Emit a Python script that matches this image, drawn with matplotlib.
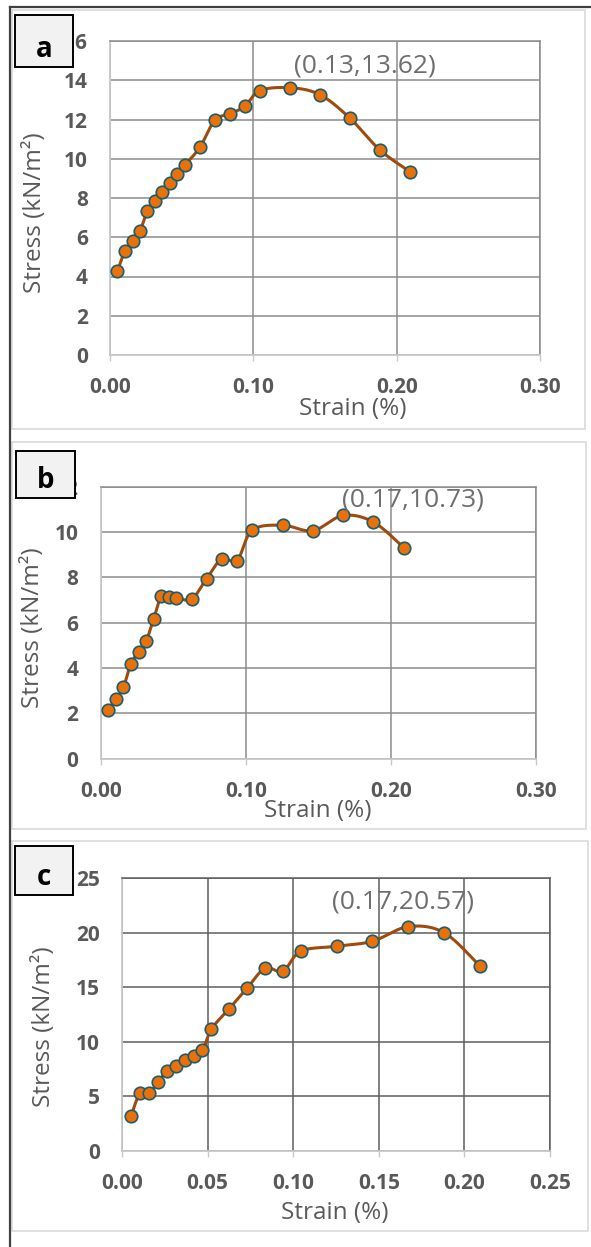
import matplotlib
matplotlib.use("Agg")
import matplotlib.pyplot as plt
from matplotlib.patches import Rectangle
from matplotlib.lines import Line2D
import numpy as np

plt.rcParams['font.family'] = ['Open Sans', 'DejaVu Sans']

strain = [0.0052, 0.0105, 0.0157, 0.0209, 0.0261, 0.0313, 0.0366, 0.0418, 0.0470, 0.0522,
          0.0627, 0.0731, 0.0836, 0.0940, 0.1045, 0.1254, 0.1463, 0.1672, 0.1881, 0.2090]

stress_a = [4.28, 5.31, 5.81, 6.32, 7.33, 7.83, 8.29, 8.76, 9.23, 9.68,
            10.58, 11.96, 12.29, 12.67, 13.47, 13.62, 13.27, 12.08, 10.46, 9.35]
stress_b = [2.13, 2.64, 3.16, 4.20, 4.70, 5.19, 6.18, 7.17, 7.14, 7.11,
            7.04, 7.95, 8.83, 8.73, 10.08, 10.30, 10.06, 10.73, 10.44, 9.31]
stress_c = [3.17, 5.31, 5.28, 6.29, 7.33, 7.78, 8.33, 8.73, 9.22, 11.17,
            13.06, 14.93, 16.76, 16.48, 18.32, 18.77, 19.23, 20.57, 20.02, 16.97]

panel_labels = ['a', 'b', 'c']
xticks_ab = [0.0, 0.1, 0.2, 0.3]
xticks_c = [0.0, 0.05, 0.10, 0.15, 0.20, 0.25]

W, H = 591, 1247
LINE = '#A04A0C'
FACE = '#E8710A'
EDGE = '#1D5C6E'
TXT = '#595959'


def fx(px):
    return px / W


def fy(py):
    return 1 - py / H


def smooth(x, y, sx, sy, n=24):
    # Excel-like smoothed line: Catmull-Rom as cubic Bezier, done in pixel space
    pts = np.column_stack([np.asarray(x) * sx, np.asarray(y) * sy])
    out = []
    t = np.linspace(0, 1, n)[:, None]
    for i in range(len(pts) - 1):
        p0 = pts[max(i - 1, 0)]
        p1 = pts[i]
        p2 = pts[i + 1]
        p3 = pts[min(i + 2, len(pts) - 1)]
        c1 = p1 + (p2 - p0) / 6
        c2 = p2 - (p3 - p1) / 6
        seg = (1 - t)**3 * p1 + 3 * (1 - t)**2 * t * c1 + 3 * (1 - t) * t**2 * c2 + t**3 * p2
        out.append(seg if i == 0 else seg[1:])
    out = np.vstack(out)
    return out[:, 0] / sx, out[:, 1] / sy


fig = plt.figure(figsize=(W / 100, H / 100), dpi=100)

# plot box in px (left, top, right, bottom), axis limits, label spots, frames
panels = [
    dict(y=stress_a, box=(110, 41, 540, 355), xmax=0.3, ymax=16, ystep=2, xt=xticks_ab,
         grid='#8C8C8C', ylab=(-0.147, 0.452), xlab=(0.565, -0.134), off=(54, 15.5),
         frame=(12, 10, 585, 429), lab=(15, 15, 73, 67)),
    dict(y=stress_b, box=(100.7, 486.7, 535.7, 758.7), xmax=0.3, ymax=12, ystep=2, xt=xticks_ab,
         grid='#8C8C8C', ylab=(-0.128, 0.48), xlab=(0.50, -0.148), off=(50, 11),
         frame=(12, 442, 586, 829), lab=(16, 451, 75, 498)),
    dict(y=stress_c, box=(122, 878.3, 550, 1151), xmax=0.25, ymax=25, ystep=5, xt=xticks_c,
         grid='#5E5E5E', ylab=(-0.154, 0.455), xlab=(0.498, -0.182), off=(-4, 18),
         frame=(12, 841, 588, 1231), lab=(15, 846, 73, 895)),
]

for p, letter in zip(panels, panel_labels):
    l, t_, r, b = p['box']
    ax = fig.add_axes([fx(l), fy(b), fx(r) - fx(l), fy(t_) - fy(b)])
    ax.set_xlim(0, p['xmax'])
    ax.set_ylim(0, p['ymax'])
    ax.set_xticks(p['xt'])
    ax.set_xticklabels(['%.2f' % v for v in p['xt']])
    ax.set_yticks(np.arange(0, p['ymax'] + 0.1, p['ystep']))
    ax.grid(True, color=p['grid'], linewidth=1.1)
    ax.set_axisbelow(True)
    for s in ['top', 'right']:
        ax.spines[s].set_color(p['grid'])
        ax.spines[s].set_linewidth(1.1)
    for s in ['left', 'bottom']:
        ax.spines[s].set_color('#C8C8C8')
        ax.spines[s].set_linewidth(1.3)
    ax.tick_params(axis='x', length=4, color='#C8C8C8', width=1, pad=12,
                   labelsize=15, labelcolor=TXT)
    ax.tick_params(axis='y', length=0, pad=16, labelsize=15, labelcolor=TXT)
    for lb in ax.get_xticklabels() + ax.get_yticklabels():
        lb.set_fontweight('bold')

    sx = (r - l) / p['xmax']
    sy = (b - t_) / p['ymax']
    xs, ys = smooth(strain, p['y'], sx, sy)
    ax.plot(xs, ys, color=LINE, linewidth=2.2, zorder=3, clip_on=False)
    ax.plot(strain, p['y'], linestyle='none', marker='o', markersize=9,
            markerfacecolor=FACE, markeredgecolor=EDGE, markeredgewidth=1.2,
            zorder=4, clip_on=False)

    k = int(np.argmax(p['y']))
    ax.annotate('(%.2f,%.2f)' % (strain[k], p['y'][k]), xy=(strain[k], p['y'][k]),
                xytext=p['off'], textcoords='offset points', ha='center', va='center',
                fontsize=19, color='#6E6E6E', annotation_clip=False, zorder=5)

    ax.set_xlabel('Strain (%)', fontsize=17.5, color=TXT)
    ax.set_ylabel('Stress (kN/m²)', fontsize=17.5, color=TXT)
    ax.xaxis.set_label_coords(*p['xlab'])
    ax.yaxis.set_label_coords(*p['ylab'])

    # panel frame
    fl, ft, fr, fb = p['frame']
    fig.patches.append(Rectangle((fx(fl), fy(fb)), fx(fr) - fx(fl), fy(ft) - fy(fb),
                                 transform=fig.transFigure, fill=False,
                                 edgecolor='#D9D9D9', linewidth=1.2, zorder=-1))
    # letter box
    bl, bt, br, bb = p['lab']
    fig.patches.append(Rectangle((fx(bl), fy(bb)), fx(br) - fx(bl), fy(bt) - fy(bb),
                                 transform=fig.transFigure, facecolor='#F2F2F2',
                                 edgecolor='black', linewidth=1.4, zorder=10))
    fig.text(fx((bl + br) / 2), fy(bb - 10), letter, ha='center', va='baseline',
             fontsize=20, fontweight='bold', color='black', zorder=11)

# outer dark lines (top and left)
fig.lines.append(Line2D([fx(10), 1], [fy(6.5), fy(6.5)], transform=fig.transFigure,
                        color='#404040', linewidth=1.6))
fig.lines.append(Line2D([fx(10.3), fx(10.3)], [fy(6.5), 0], transform=fig.transFigure,
                        color='#404040', linewidth=1.6))

fig.savefig('out.png', dpi=100)
